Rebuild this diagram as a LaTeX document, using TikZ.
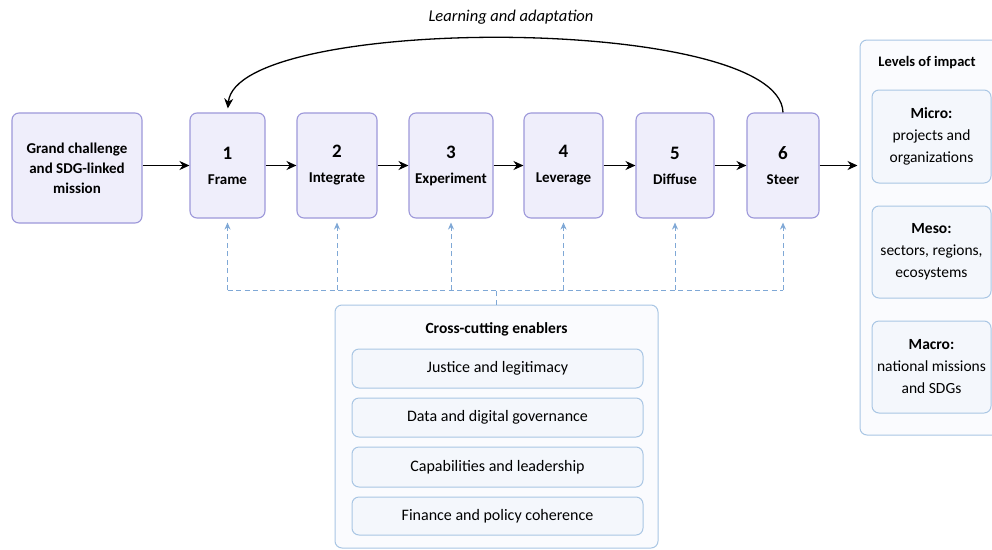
\documentclass[tikz,border=0pt]{standalone}
\usepackage{fontspec}
\setmainfont{Carlito}
\usetikzlibrary{arrows.meta}
\definecolor{stagefill}{HTML}{EFEEFB}
\definecolor{stageline}{HTML}{9D98DA}
\definecolor{panelline}{HTML}{A9C6E4}
\definecolor{panelfill}{HTML}{FAFBFE}
\definecolor{innerfill}{HTML}{F4F7FC}
\definecolor{dashcol}{HTML}{7FA8D6}
\begin{document}
\begin{tikzpicture}[x=1pt,y=-1pt,
  stagebox/.style={draw=stageline, fill=stagefill, line width=1.1pt, rounded corners=7pt,
    minimum height=105pt, align=center, inner sep=0pt, font=\bfseries\fontsize{15}{20}\selectfont},
  panelbox/.style={draw=panelline, fill=panelfill, line width=1pt, rounded corners=7pt, inner sep=0pt},
  innerbox/.style={draw=panelline, fill=innerfill, line width=1pt, rounded corners=7pt, inner sep=0pt,
    align=center, font=\fontsize{15.5}{22}\selectfont},
  enbox/.style={innerbox, font=\fontsize{16}{20}\selectfont},
  titletext/.style={font=\bfseries\fontsize{14.5}{18}\selectfont, inner sep=0pt},
  arr/.style={-{Stealth[length=10pt,width=9pt]}, line width=1.5pt, black},
  bluedash/.style={draw=dashcol, line width=1pt, dash pattern=on 5pt off 3.5pt},
  bluetip/.style={-{Stealth[length=7pt,width=6pt]}, dashcol},
]
\clip (0,0) rectangle (992,549);
\fill[white] (0,0) rectangle (992,549);

% start box
\node[stagebox, minimum width=130pt, minimum height=110pt] (gc) at (77,168)
  {Grand challenge\\and SDG-linked\\mission};

% stages
\node[stagebox, minimum width=75pt] (s1) at (227.5,165.5) {{\fontsize{19}{22}\selectfont 1}\\[5pt]Frame};
\node[stagebox, minimum width=80pt] (s2) at (337,165.5) {{\fontsize{19}{22}\selectfont 2}\\[5pt]Integrate};
\node[stagebox, minimum width=84pt] (s3) at (451,165.5) {{\fontsize{19}{22}\selectfont 3}\\[5pt]Experiment};
\node[stagebox, minimum width=79pt] (s4) at (563.5,165.5) {{\fontsize{19}{22}\selectfont 4}\\[5pt]Leverage};
\node[stagebox, minimum width=78pt] (s5) at (675,165.5) {{\fontsize{19}{22}\selectfont 5}\\[5pt]Diffuse};
\node[stagebox, minimum width=72pt] (s6) at (783,165.5) {{\fontsize{19}{22}\selectfont 6}\\[5pt]Steer};

% right panel
\node[panelbox, minimum width=150pt, minimum height=395pt] (rp) at (935,237.5) {};
\node[titletext] (rpt) at (927,63) {Levels of impact};
\node[innerbox, minimum width=119pt, minimum height=93pt] (micro) at (931.5,136.5)
  {\textbf{Micro:}\\projects and\\organizations};
\node[innerbox, minimum width=119pt, minimum height=92pt] (meso) at (931.5,252)
  {\textbf{Meso:}\\sectors, regions,\\ecosystems};
\node[innerbox, minimum width=119pt, minimum height=92pt] (macro) at (931.5,367)
  {\textbf{Macro:}\\national missions\\and SDGs};

% enablers panel
\node[panelbox, minimum width=323pt, minimum height=243pt] (en) at (496.5,426.5) {};
\node[titletext, font=\bfseries\fontsize{15.5}{18}\selectfont] (ent) at (496.5,329) {Cross-cutting enablers};
\node[enbox, minimum width=291pt, minimum height=39pt] (e1) at (497.5,368.5) {Justice and legitimacy};
\node[enbox, minimum width=291pt, minimum height=39pt] (e2) at (497.5,417.5) {Data and digital governance};
\node[enbox, minimum width=291pt, minimum height=40pt] (e3) at (497.5,467) {Capabilities and leadership};
\node[enbox, minimum width=291pt, minimum height=38pt] (e4) at (497.5,516) {Finance and policy coherence};

% main flow arrows
\draw[arr] (gc.east |- s1) -- (s1.west);
\draw[arr] (s1) -- (s2);
\draw[arr] (s2) -- (s3);
\draw[arr] (s3) -- (s4);
\draw[arr] (s4) -- (s5);
\draw[arr] (s5) -- (s6);
\draw[arr, shorten >=2pt] (s6.east) -- (s6 -| rp.west);

% feedback loop
\node[font=\itshape\fontsize{16.5}{18}\selectfont, inner sep=0pt] (learn) at (511,17) {Learning and adaptation};
\draw[arr, line width=1.3pt, shorten >=4pt] (s6.north) .. controls (780,14) and (236,14) .. (s1.north);

% dashed enabler links
\coordinate (bus) at (0,290);
\draw[bluedash] (s1 |- bus) -- (s6 |- bus);
\draw[bluedash] (en.north) -- (en.north |- bus);
\foreach \s in {s1,s2,s3,s4,s5,s6}{
  \draw[bluedash] (\s |- bus) -- ([yshift=-10pt]\s.south);
  \draw[bluetip, line width=1pt] ([yshift=-11pt]\s.south) -- ([yshift=-4pt]\s.south);
}
\end{tikzpicture}
\end{document}
